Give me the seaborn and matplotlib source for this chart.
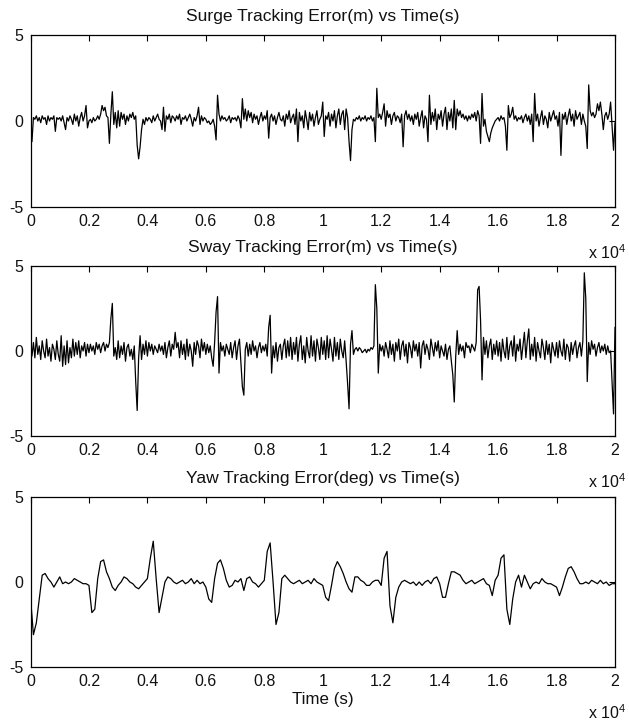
import numpy as np
import pandas as pd
import matplotlib
matplotlib.use("Agg")
import matplotlib.pyplot as plt
from matplotlib.ticker import FuncFormatter, FixedLocator
import seaborn as sns

# Time bases (s)
t_fast = list(range(0, 20001, 50))
t_slow = list(range(0, 20001, 100))

# Surge tracking error (m), every 50 s
surge = [
    0.0, -1.2, 0.2, 0.1, 0.3, 0.0, 0.2, -0.1, 0.3, 0.1, 0.2, -0.2, 0.3, 0.0, 0.2, 0.1, 0.3, -0.6, 0.2, 0.1,
    0.2, 0.0, 0.3, -0.1, -0.5, 0.2, 0.0, 0.3, 0.1, -0.2, 0.4, 0.0, 0.3, -0.3, 0.2, 0.5, 0.0, 0.3, 0.9, -0.4,
    0.0, 0.1, -0.1, 0.2, 0.0, 0.1, 0.3, 0.1, 0.4, 0.9, 0.6, 0.8, 0.3, 0.2, -1.3, 0.4, 1.7, -0.2, 0.5, -0.4,
    0.6, -0.3, 0.5, 0.1, 0.4, -0.2, 0.3, 0.0, 0.4, 0.2, 0.5, 0.1, 0.3, -1.4, -2.2, -1.5, -0.5, 0.1, -0.2, 0.2,
    0.0, 0.2, 0.1, -0.1, 0.3, 0.0, 0.2, 0.4, 0.1, 0.0, -0.5, 0.8, -0.6, 0.3, 0.1, 0.4, -0.1, 0.3, 0.2, 0.0,
    0.3, 0.1, 0.4, -0.2, 0.2, 0.1, 0.3, 0.0, 0.2, 0.4, 0.1, -0.3, 0.2, 0.0, 0.3, 0.8, -0.2, 0.3, 0.0, 0.2,
    0.1, -0.1, 0.0, -0.2, -0.1, 0.1, -0.3, -1.1, 1.5, 0.4, 0.0, 0.3, 0.1, 0.2, 0.0, 0.1, 0.3, -0.1, 0.2, 0.1,
    0.2, 0.0, 0.3, 0.1, -0.4, 1.3, 0.1, 0.7, 0.0, 0.6, 0.2, 0.5, -0.1, 0.4, 0.1, 0.3, -0.2, 0.2, 0.5, 0.0,
    0.3, 0.1, 0.6, -1.0, 0.2, 0.4, 0.0, 0.3, -0.2, 0.2, 0.5, 0.1, 0.0, 0.3, -0.3, 0.4, 0.1, 0.6, -0.1, 0.2,
    0.4, -0.2, 0.7, -1.2, 0.5, 0.0, 0.3, -0.4, 0.6, 0.1, -0.5, 0.5, 0.0, 0.4, -0.3, 0.2, 0.6, -0.2, 0.1, 0.3,
    1.1, -0.9, 0.3, 0.1, 0.5, -0.3, 0.4, 0.0, 0.6, -0.4, 0.3, 0.7, -0.2, 0.4, 0.6, -0.5, 0.7, 0.2, -1.2, -2.3,
    -0.5, 0.1, 0.0, 0.2, 0.1, 0.3, 0.0, 0.2, 0.1, 0.3, 0.0, 0.2, 0.1, 0.3, 0.0, 0.2, -1.2, 1.9, 0.2, 0.4,
    0.1, 0.5, 1.0, -0.3, 0.6, 0.2, 0.4, -0.2, 0.3, 0.5, 0.0, 0.3, 0.2, -0.1, 0.4, -1.5, 0.3, 0.6, 0.1, 0.4,
    0.0, 0.3, -0.2, 0.4, 0.1, 0.5, -0.3, 0.2, 0.6, -0.4, 0.3, 0.1, -1.2, 1.5, -0.2, 0.5, 0.0, 0.7, -0.5, 0.4,
    0.1, 0.6, -0.3, 0.4, 0.8, -0.5, 0.5, 0.0, 0.7, -0.4, 1.2, -0.5, 0.7, 0.3, 0.6, 0.2, 0.4, 0.1, 0.3, 0.0,
    0.3, 0.1, 0.4, 0.2, 0.5, 0.0, 0.6, 0.3, -1.3, 1.6, -0.3, 0.1, -0.6, -0.9, -1.2, -0.7, -0.4, -0.2, 0.0, 0.1,
    0.2, 0.0, 0.3, 0.1, 0.2, -0.3, -1.7, 0.9, 0.2, 0.4, 0.8, 0.1, 0.3, 0.0, 0.2, 0.1, 0.3, -0.1, 0.2, 0.4,
    0.0, 0.3, -0.2, 0.4, -1.2, 1.6, 0.0, 0.4, -0.3, 0.2, 0.6, -0.2, 0.3, 0.1, -0.4, 0.5, 0.0, 0.3, 0.6, 0.1,
    0.3, -0.3, 0.5, -2.0, 0.4, 0.1, 0.5, -0.2, 0.3, 0.7, 0.0, 0.4, -0.3, 0.6, 0.1, 0.3, 0.5, -0.2, 0.4, 0.0,
    -0.3, -1.6, 2.1, 0.6, 0.3, 0.5, 0.2, 0.4, 1.0, 0.6, 1.1, 0.4, -0.5, 0.3, 0.5, 0.1, 0.4, 1.1, -0.3, -1.7,
    -0.1,
]

# Sway tracking error (m), every 50 s
sway = [
    0.0, -0.3, 0.5, -0.4, 0.8, -0.2, 0.3, -0.5, 0.6, 0.0, -0.4, 0.7, -0.3, 0.2, -0.6, 0.4, 0.1, -0.5, 0.6, -0.2,
    -0.6, 0.9, -0.9, 0.3, -0.8, 0.6, -0.7, 0.2, -0.4, 0.7, -0.3, 0.5, -0.2, 0.6, -0.4, 0.3, 0.0, 0.5, -0.3, 0.4,
    -0.1, 0.4, 0.0, 0.3, -0.2, 0.5, 0.1, 0.4, -0.1, 0.3, 0.5, 0.0, 0.4, 0.2, 0.5, 1.9, 2.8, -0.3, 0.2, -0.5,
    0.6, -0.4, 0.3, -0.2, 0.5, -0.6, 0.2, 0.4, -0.3, 0.1, -0.5, 0.3, -1.8, -3.5, -0.4, 0.9, -0.5, 0.4, -0.2, 0.6,
    -0.3, 0.5, 0.0, 0.4, -0.2, 0.3, 0.1, -0.1, 0.4, 0.0, 0.3, -0.2, 0.5, -0.4, 0.2, 0.6, -0.3, 0.4, 0.1, 1.1,
    0.2, 0.5, -0.4, 0.6, -0.2, 0.4, -0.5, 0.7, -0.3, 0.4, 0.0, -0.9, 0.5, -0.2, 0.6, 0.3, -0.4, 0.7, 0.0, 0.5,
    -0.2, 0.4, -0.1, 0.3, -0.4, -0.9, 0.5, 2.3, 3.2, -1.3, 0.5, 0.0, 0.3, -0.3, 0.4, 0.1, -0.2, 0.5, -0.4, 0.2,
    0.6, -0.5, 0.3, 0.7, -0.7, -2.1, -2.6, 0.1, 0.5, -0.3, 0.4, -0.2, 0.6, 0.0, 0.3, -0.4, 0.2, 0.5, -0.1, 0.3,
    0.0, 0.4, -0.3, 1.4, 2.1, -1.3, 0.3, -0.4, 0.5, -0.6, 0.2, 0.4, -0.5, 0.3, 0.7, -0.4, 0.6, -0.3, 0.8, -0.5,
    0.5, -0.2, 0.8, -0.6, 0.4, 0.9, -0.5, 0.3, -0.7, 0.8, 0.0, -0.4, 0.9, -0.3, 0.6, -0.6, 0.7, 0.2, -0.5, 0.8,
    -0.2, 0.6, -0.5, 0.9, -0.4, 0.7, 0.1, -0.6, 0.8, -0.3, 0.5, -0.5, 0.7, 0.0, -0.4, 0.6, -0.6, -1.9, -3.4, 0.4,
    1.2, -0.2, 0.1, 0.2, 0.0, 0.2, 0.1, -0.1, 0.0, 0.1, -0.1, 0.1, 0.0, 0.2, 0.1, 0.3, 3.9, 2.5, -1.3, 0.4,
    0.0, 0.3, -0.3, 0.5, 0.1, -0.4, 0.6, -0.2, 0.4, -0.6, 0.5, 0.0, 0.7, -0.5, 0.3, 0.6, -0.3, 0.4, -0.7, 0.5,
    0.2, -0.4, 0.6, 0.0, 0.4, -0.3, 0.5, -1.0, 0.3, 0.6, -0.2, 0.4, 0.1, -0.5, 0.7, 0.2, -0.3, 0.5, 0.0, 0.6,
    -0.4, 0.3, 0.0, -0.3, 0.4, -0.5, 0.1, 0.3, -0.6, -1.4, -3.0, -0.3, 1.2, -0.2, 0.4, 0.0, 0.3, -0.4, 0.5, 0.2,
    0.3, -0.1, 0.4, 0.2, 0.0, 0.5, 3.6, 3.8, 1.8, -1.7, 0.8, -0.2, 0.6, -0.4, 0.3, 0.7, -0.5, 0.4, -0.2, 0.6,
    -0.3, 0.5, -0.6, 0.7, 0.0, -0.4, 0.8, -0.5, 0.3, 0.6, -0.3, 0.9, -0.6, 0.4, 0.0, 0.7, -0.5, 0.3, 1.1, -0.4,
    0.6, 1.3, -0.5, 0.4, -0.3, 0.8, -0.6, 0.5, 0.0, -0.4, 0.7, 0.2, -0.5, 0.6, -0.2, 0.4, -0.7, 0.5, 0.1, -0.3,
    0.5, -0.4, 0.6, 0.0, -0.3, 0.7, -0.5, 0.4, 0.2, -0.6, 0.5, -0.2, 0.3, 0.6, -0.4, 0.2, 0.5, -0.3, 0.6, 4.6,
    3.1, -1.8, 0.5, -0.2, 0.6, 0.1, 0.4, -0.3, 0.2, 0.5, -0.1, 0.3, 0.0, 0.4, -0.2, 0.3, -0.1, 0.0, -1.8, -3.7,
    1.4,
]

# Yaw tracking error (deg), every 100 s
yaw = [
    -0.9, -3.1, -2.4, -1.0, 0.4, 0.5, 0.2, 0.0, -0.3, 0.0,
    0.3, -0.1, 0.0, -0.1, 0.0, 0.2, 0.1, 0.0, -0.1, -0.1,
    -0.2, -1.8, -1.6, 0.2, 1.2, 1.3, 0.6, 0.2, -0.3, -0.5,
    -0.2, 0.0, 0.3, 0.2, 0.0, -0.1, -0.3, -0.4, -0.2, 0.0,
    0.2, 1.4, 2.4, 0.2, -1.8, -0.9, 0.0, 0.3, 0.2, 0.0,
    -0.1, 0.0, 0.1, -0.1, 0.0, 0.2, -0.1, 0.1, -0.1, 0.0,
    -0.3, -1.0, -1.2, 0.2, 1.1, 1.3, 0.8, 0.1, -0.3, -0.2,
    0.1, 0.0, 0.2, -0.5, 0.2, 0.3, 0.0, -0.1, -0.3, -0.1,
    0.1, 1.8, 2.3, 0.0, -2.5, -1.8, 0.2, 0.4, 0.2, 0.0,
    -0.1, 0.0, 0.1, -0.1, 0.0, 0.1, -0.1, 0.2, 0.0, -0.1,
    -0.2, -0.9, -1.1, -0.2, 0.8, 1.2, 0.9, 0.5, 0.0, -0.4,
    -0.6, 0.3, 0.3, 0.1, 0.0, -0.2, -0.2, 0.0, 0.1, 0.1,
    -0.2, 1.4, 1.8, -1.4, -2.4, -0.9, -0.3, 0.0, 0.1, 0.0,
    -0.1, 0.0, -0.2, 0.0, -0.2, 0.0, 0.1, -0.1, 0.2, 0.3,
    -0.1, -0.9, -0.9, -0.1, 0.6, 0.6, 0.5, 0.4, 0.1, -0.1,
    0.0, 0.1, -0.1, 0.0, 0.1, 0.2, -0.1, -0.2, -0.8, 0.1,
    0.4, 1.4, 1.6, -1.6, -2.5, -1.0, 0.0, 0.4, -0.3, 0.4,
    0.0, -0.4, -0.1, 0.0, -0.1, 0.2, 0.0, -0.1, -0.1, -0.2,
    -0.3, -0.8, -0.3, 0.3, 0.8, 0.9, 0.6, 0.2, -0.1, -0.1,
    0.0, -0.1, 0.1, 0.0, -0.1, 0.1, -0.1, 0.0, -0.2, -0.1,
    -0.1,
]

titles = [
    "Surge Tracking Error(m) vs Time(s)",
    "Sway Tracking Error(m) vs Time(s)",
    "Yaw Tracking Error(deg) vs Time(s)",
]
x_ticks = [0, 2000, 4000, 6000, 8000, 10000, 12000, 14000, 16000, 18000, 20000]
y_ticks = [-5, 0, 5]

sns.set_theme(style="white")
plt.rcParams["font.family"] = ["Liberation Sans", "DejaVu Sans"]
plt.rcParams["mathtext.fontset"] = "custom"
plt.rcParams["mathtext.rm"] = "Liberation Sans"

frames = [
    pd.DataFrame({"t": t_fast, "v": surge}),
    pd.DataFrame({"t": t_fast, "v": sway}),
    pd.DataFrame({"t": t_slow, "v": yaw}),
]

fig = plt.figure(figsize=(6.29, 7.23), dpi=100)
W, H = 629.0, 723.0
left, right = 30.5, 615.0
boxes = [(35, 207), (266, 436), (497, 667)]

fmt = FuncFormatter(lambda v, pos: f"{v / 1e4:g}")
for i, (df, (top, bot)) in enumerate(zip(frames, boxes)):
    ax = fig.add_axes([left / W, 1 - bot / H, (right - left) / W, (bot - top) / H])
    sns.lineplot(data=df, x="t", y="v", ax=ax, color="black", linewidth=0.9,
                 estimator=None, sort=False)
    ax.set_xlim(0, 20000)
    ax.set_ylim(-5, 5)
    ax.xaxis.set_major_locator(FixedLocator(x_ticks))
    ax.yaxis.set_major_locator(FixedLocator(y_ticks))
    ax.xaxis.set_major_formatter(fmt)
    ax.set_yticklabels([str(v) for v in y_ticks])
    ax.tick_params(direction="in", top=True, right=True, length=4, width=0.8,
                   color="black", labelsize=11.5, labelcolor="#111111", pad=5)
    for s in ax.spines.values():
        s.set_color("black")
        s.set_linewidth(0.9)
    ax.set_xlabel("")
    ax.set_ylabel("")
    ax.set_title(titles[i], fontsize=12.6, color="#111111", pad=10)
    ax.annotate("x 10$^4$", xy=(1, 0), xycoords="axes fraction",
                xytext=(-8, -46), textcoords="offset pixels",
                ha="center", va="center", fontsize=11.5, color="#111111")
    if i == 2:
        ax.set_xlabel("Time (s)", fontsize=12.2, color="#111111", labelpad=2)

fig.savefig("out.png", dpi=100, facecolor="white")
